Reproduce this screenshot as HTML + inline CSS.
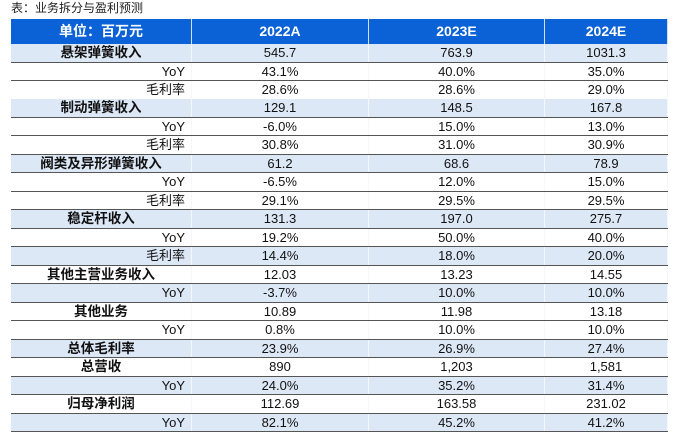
<!DOCTYPE html>
<html><head><meta charset="utf-8"><style>
body{margin:0;width:675px;height:443px;background:#fff;font-family:"Liberation Sans","Noto Sans CJK SC",sans-serif;position:relative;overflow:hidden}
#title{position:absolute;left:11px;top:1px;font-size:12px;line-height:14px;color:#222}
#tbl{position:absolute;left:11px;top:19px;width:657px;height:413px}
.r{position:absolute;left:0;width:657px;height:17.5px;border-bottom:1px solid #555;overflow:hidden}
.r>div{position:absolute;top:0;height:18px;font-size:13px;color:#111;text-align:center;line-height:18px;border-right:1px solid #f4f7fc;white-space:nowrap;overflow:hidden;box-sizing:border-box}
.r>div:nth-child(1){left:0;width:181px}.r>div:nth-child(2){left:181px;width:177px}.r>div:nth-child(3){left:358px;width:176px}.r>div:nth-child(4){left:534px;width:123px}
.r.h{height:25px;border-bottom:none;background:#0a62d6}
.r.h>div{height:25px;color:#fff;font-weight:bold;font-size:14px;line-height:25px;border-right:1px solid #cfe0f7}
.r.b{background:#dde8f7}
.m{font-weight:bold;font-size:13.5px!important}
.s{text-align:right!important;padding-right:6px}
</style></head><body>
<div id="title">表：业务拆分与盈利预测</div>
<div id="tbl">
<div class="r h" style="top:0"><div>单位：百万元</div><div>2022A</div><div>2023E</div><div>2024E</div></div>
<div class="r b" style="top:25px"><div class="m">悬架弹簧收入</div><div>545.7</div><div>763.9</div><div>1031.3</div></div>
<div class="r" style="top:43.5px"><div class="s">YoY</div><div>43.1%</div><div>40.0%</div><div>35.0%</div></div>
<div class="r" style="top:62px"><div class="s">毛利率</div><div>28.6%</div><div>28.6%</div><div>29.0%</div></div>
<div class="r b" style="top:80.4px"><div class="m">制动弹簧收入</div><div>129.1</div><div>148.5</div><div>167.8</div></div>
<div class="r" style="top:98.9px"><div class="s">YoY</div><div>-6.0%</div><div>15.0%</div><div>13.0%</div></div>
<div class="r" style="top:117.4px"><div class="s">毛利率</div><div>30.8%</div><div>31.0%</div><div>30.9%</div></div>
<div class="r b" style="top:135.9px"><div class="m">阀类及异形弹簧收入</div><div>61.2</div><div>68.6</div><div>78.9</div></div>
<div class="r" style="top:154.3px"><div class="s">YoY</div><div>-6.5%</div><div>12.0%</div><div>15.0%</div></div>
<div class="r" style="top:172.8px"><div class="s">毛利率</div><div>29.1%</div><div>29.5%</div><div>29.5%</div></div>
<div class="r b" style="top:191.3px"><div class="m">稳定杆收入</div><div>131.3</div><div>197.0</div><div>275.7</div></div>
<div class="r" style="top:209.8px"><div class="s">YoY</div><div>19.2%</div><div>50.0%</div><div>40.0%</div></div>
<div class="r b" style="top:228.2px"><div class="s">毛利率</div><div>14.4%</div><div>18.0%</div><div>20.0%</div></div>
<div class="r" style="top:246.7px"><div class="m">其他主营业务收入</div><div>12.03</div><div>13.23</div><div>14.55</div></div>
<div class="r b" style="top:265.2px"><div class="s">YoY</div><div>-3.7%</div><div>10.0%</div><div>10.0%</div></div>
<div class="r" style="top:283.7px"><div class="m">其他业务</div><div>10.89</div><div>11.98</div><div>13.18</div></div>
<div class="r" style="top:302.1px"><div class="s">YoY</div><div>0.8%</div><div>10.0%</div><div>10.0%</div></div>
<div class="r b" style="top:320.6px"><div class="m">总体毛利率</div><div>23.9%</div><div>26.9%</div><div>27.4%</div></div>
<div class="r" style="top:339.1px"><div class="m">总营收</div><div>890</div><div>1,203</div><div>1,581</div></div>
<div class="r b" style="top:357.6px"><div class="s">YoY</div><div>24.0%</div><div>35.2%</div><div>31.4%</div></div>
<div class="r" style="top:376px"><div class="m">归母净利润</div><div>112.69</div><div>163.58</div><div>231.02</div></div>
<div class="r b" style="top:394.5px"><div class="s">YoY</div><div>82.1%</div><div>45.2%</div><div>41.2%</div></div>
</div>
</body></html>
